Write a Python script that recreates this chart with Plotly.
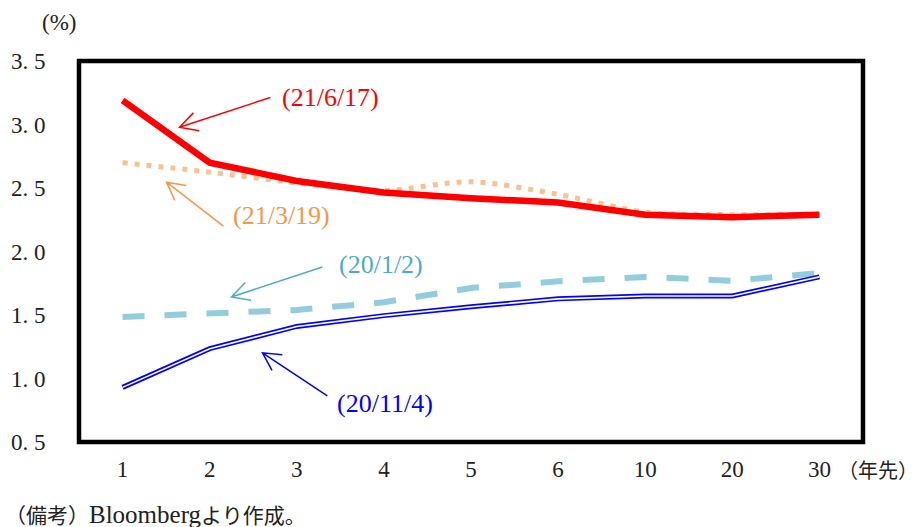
import math
import plotly.graph_objects as go

# Remaining maturity (years) and yield curves on four dates
maturities = ["1", "2", "3", "4", "5", "6", "10", "20", "30"]
y_ticks = [0.5, 1.0, 1.5, 2.0, 2.5, 3.0, 3.5]

curve_210617 = [3.19, 2.70, 2.555, 2.465, 2.42, 2.385, 2.29, 2.27, 2.29]
curve_210319 = [2.70, 2.625, 2.54, 2.48, 2.55, 2.45, 2.31, 2.29, 2.29]
curve_200102 = [1.485, 1.516, 1.54, 1.60, 1.713, 1.765, 1.80, 1.77, 1.83]
curve_201104 = [0.93, 1.235, 1.41, 1.495, 1.565, 1.627, 1.65, 1.65, 1.80]

x_pos = list(range(len(maturities)))

LATIN = "Liberation Serif, Noto Sans CJK JP, serif"

W, H = 917, 527
M_L, M_R, M_T, M_B = 78.5, 54, 60.5, 84.5
X_RANGE = [-0.5, len(maturities) - 0.5]
Y_RANGE = [0.5, 3.5]
PX_PER_X = (W - M_L - M_R) / (X_RANGE[1] - X_RANGE[0])
PX_PER_Y = (H - M_T - M_B) / (Y_RANGE[1] - Y_RANGE[0])

fig = go.Figure()

# 20/1/2 : light-blue dashed
fig.add_trace(go.Scatter(
    x=x_pos, y=curve_200102, mode="lines",
    line=dict(color="#93CDDD", width=6, dash="22px,20px"),
    hoverinfo="skip", showlegend=False))

# 20/11/4 : blue double line (thick blue with a thin white core)
fig.add_trace(go.Scatter(
    x=x_pos, y=curve_201104, mode="lines",
    line=dict(color="#0000FF", width=5),
    hoverinfo="skip", showlegend=False))
fig.add_trace(go.Scatter(
    x=x_pos, y=curve_201104, mode="lines",
    line=dict(color="#FFFFFF", width=1.6),
    hoverinfo="skip", showlegend=False))

# 21/3/19 : light-orange dotted, smoothed
fig.add_trace(go.Scatter(
    x=x_pos, y=curve_210319, mode="lines",
    line=dict(color="#FAC08F", width=5, dash="5px,7px", shape="spline", smoothing=0.8),
    hoverinfo="skip", showlegend=False))

# 21/6/17 : thick red
fig.add_trace(go.Scatter(
    x=x_pos, y=curve_210617, mode="lines",
    line=dict(color="#FF0000", width=6.5),
    hoverinfo="skip", showlegend=False))

# Frame around the plotting area
fig.add_shape(type="rect", xref="paper", yref="paper", x0=0, x1=1, y0=0, y1=1,
              line=dict(color="black", width=4.5), fillcolor="rgba(0,0,0,0)", layer="above")


def open_arrow(tail, head, color, head_len=20, half_angle=28, width=1.5):
    """Straight arrow with an open V head, drawn as an SVG path in data units."""
    # work in screen pixels so the head keeps its shape
    dx = (head[0] - tail[0]) * PX_PER_X
    dy = -(head[1] - tail[1]) * PX_PER_Y
    ang = math.atan2(dy, dx)
    pts = []
    for s in (1, -1):
        a = ang + math.pi + s * math.radians(half_angle)
        px, py = head_len * math.cos(a), head_len * math.sin(a)
        pts.append((head[0] + px / PX_PER_X, head[1] - py / PX_PER_Y))
    path = (f"M{tail[0]},{tail[1]} L{head[0]},{head[1]} "
            f"M{pts[0][0]},{pts[0][1]} L{head[0]},{head[1]} L{pts[1][0]},{pts[1][1]}")
    fig.add_shape(type="path", xref="x", yref="y", path=path,
                  line=dict(color=color, width=width), layer="above")


# Date labels with arrows pointing to each curve
labels = [
    # text, colour, text x, text y, arrow tail (x, y), arrow head (x, y)
    ("(21/6/17)", "#FF0000", 1.81, 3.213, (1.697, 3.213), (0.654, 2.978)),
    ("(21/3/19)", "#F79646", 1.24, 2.286, (1.158, 2.200), (0.505, 2.546)),
    ("(20/1/2)", "#4BACC6", 2.466, 1.901, (2.294, 1.878), (1.250, 1.642)),
    ("(20/11/4)", "#0000FF", 2.443, 0.802, (2.351, 0.864), (1.606, 1.202)),
]
for text, color, tx, ty, tail, head in labels:
    open_arrow(tail, head, color)
    fig.add_annotation(
        x=tx, y=ty, xref="x", yref="y", text=text, showarrow=False,
        xanchor="left", yanchor="middle",
        font=dict(family=LATIN, size=26, color=color))

# Axis unit labels and source note
fig.add_annotation(x=-0.025, y=1.101, xref="paper", yref="paper", xanchor="center", yanchor="middle",
                   text="(%)", showarrow=False, font=dict(family=LATIN, size=23, color="#222222"))
fig.add_annotation(x=0.9656, y=-0.072, xref="paper", yref="paper", xanchor="left", yanchor="middle",
                   text="（年先）", showarrow=False,
                   font=dict(family="Noto Sans CJK JP, sans-serif", size=20, color="#222222"))
fig.add_annotation(x=-0.0975, y=-0.19, xref="paper", yref="paper", xanchor="left", yanchor="middle",
                   text="（備考）<span style='font-size:25px'>Bloomberg</span>より作成。",
                   showarrow=False,
                   font=dict(family=LATIN, size=21, color="#222222"))

fig.update_layout(
    width=W, height=H,
    margin=dict(l=M_L, r=M_R, t=M_T, b=M_B),
    paper_bgcolor="white", plot_bgcolor="white",
    xaxis=dict(
        range=X_RANGE,
        tickmode="array", tickvals=x_pos, ticktext=maturities,
        ticks="outside", ticklen=6, tickcolor="rgba(0,0,0,0)",
        showgrid=False, zeroline=False, showline=False,
        tickfont=dict(family=LATIN, size=23, color="#222222")),
    yaxis=dict(
        range=Y_RANGE,
        tickmode="array", tickvals=y_ticks,
        ticktext=[f"{v:.1f}".replace(".", ". ") for v in y_ticks],
        ticks="outside", ticklen=28, tickcolor="rgba(0,0,0,0)",
        showgrid=False, zeroline=False, showline=False,
        tickfont=dict(family=LATIN, size=23, color="#222222")),
)

fig.write_html("out.html")
